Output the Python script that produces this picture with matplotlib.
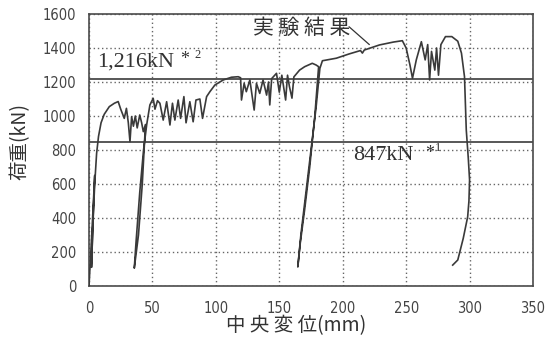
import matplotlib
matplotlib.use("Agg")
import matplotlib.pyplot as plt

# ---- data ----
disp = [0, 2.5, 4.5, 3.2, 2.0, 3.0, 4.5, 6.0, 7.5, 9.5, 12, 16, 20, 23,
        25, 27.8, 29.5, 31, 32.3, 33.6, 35, 36.5, 38, 40, 41.5, 42.8, 44.5,
        42, 39, 35.7, 37, 40, 43, 45.5,
        48, 50.6, 52, 54, 55.9, 58.5, 61.2, 63.8, 65.8, 67.7, 70.3, 72.2, 74.8,
        76.5, 79.5, 82.1, 84.3, 87.4, 89.5, 92.7, 95.3, 99.2, 105.8, 112.3, 117.6,
        119.5, 120.2, 122.3, 124, 126.8, 130.2, 132, 134.6, 137.2, 140, 141.5,
        142.5, 144, 147.8, 150, 152, 155, 156.5, 158, 160, 161.5, 166, 170, 176,
        179, 181,
        178, 174, 170, 166.5, 164.6, 167, 171, 175, 179, 182, 184,
        195, 205, 214, 215.5, 217, 229, 240, 247, 250, 253, 255, 258, 262,
        265, 267, 268.5, 270, 272.6, 274, 275.5, 277.4, 281, 286, 290.7, 293.6,
        296, 297.4, 299, 300, 299.5, 298.5, 295, 290.7, 286.7]
load = [0, 350, 650, 400, 110, 350, 600, 780, 880, 960, 1010, 1055, 1075, 1085,
        1040, 986, 1045, 960, 849, 996, 940, 1000, 930, 1006, 960, 908, 950,
        600, 300, 105, 250, 550, 800, 950,
        1065, 1104, 1040, 1090, 1075, 976, 1084, 947, 1075, 976, 1094, 986, 1114,
        960, 1084, 966, 1094, 1100, 986, 1114, 1143, 1182, 1212, 1228, 1231,
        1225, 1094, 1192, 1143, 1212, 1035, 1192, 1133, 1212, 1123, 1200,
        1065, 1220, 1251, 1140, 1240, 1094, 1240, 1173, 1105, 1230, 1270, 1290, 1310,
        1300, 1290,
        1000, 700, 450, 250, 112, 300, 550, 800, 1050, 1280, 1325,
        1340, 1365, 1385, 1370, 1388, 1418, 1435, 1443, 1400, 1300, 1222, 1330, 1437,
        1330, 1420, 1212, 1380, 1270, 1400, 1240, 1420, 1467, 1467, 1440, 1370,
        1231, 918, 750, 624, 500, 407, 280, 153, 123]

ref_lines = [1216, 847]
ref_labels = ["1,216kN", "847kN"]
ref_marks = ["2", "1"]
xticks = [0, 50, 100, 150, 200, 250, 300, 350]
yticks = [0, 200, 400, 600, 800, 1000, 1200, 1400, 1600]

cjk = ["Noto Sans CJK JP", "DejaVu Sans"]
ink = "#333333"

fig = plt.figure(figsize=(5.51, 3.44), dpi=100)
ax = fig.add_axes([89/551, 58/344, 444/551, 272/344])

ax.plot(disp, load, color="#3a3a3a", lw=1.2, zorder=3)
for v in ref_lines:
    ax.axhline(v, color="#4a4a4a", lw=1.3, zorder=2)

ax.set_xlim(0, 350)
ax.set_ylim(0, 1600)
ax.set_xticks(xticks)
ax.set_yticks(yticks)
ax.grid(True, linestyle=(0, (1, 2)), color="#666666", lw=1.0)
ax.tick_params(length=0, colors="#444444")
ax.tick_params(axis="y", pad=9)
ax.tick_params(axis="x", pad=11)
for lab in ax.get_xticklabels() + ax.get_yticklabels():
    lab.set_fontfamily("DejaVu Sans")
    lab.set_fontstretch("condensed")
    lab.set_fontsize(10.5)
for s in ax.spines.values():
    s.set_color("#4a4a4a")
    s.set_linewidth(1.2)

ax.set_xlabel("中 央 変 位(mm)", family=cjk, fontsize=14, color=ink, va="center")
ax.xaxis.set_label_coords(0.466, -0.147)
ax.set_ylabel("荷重(kN)", family=cjk, fontsize=14, color=ink, va="center")
ax.yaxis.set_label_coords(-0.155, 0.53)

# annotations
ax.text(6, 1318, ref_labels[0], family="Liberation Serif", fontsize=16,
        color=ink, va="center", ha="left")
ax.text(72, 1330, "*", family="Liberation Serif", fontsize=13, color=ink,
        va="center", ha="left")
ax.text(83, 1360, ref_marks[0], family="Liberation Serif", fontsize=9, color=ink,
        va="center", ha="left")
ax.text(208, 770, ref_labels[1], family="Liberation Serif", fontsize=16,
        color=ink, va="center", ha="left")
ax.text(265, 782, "*", family="Liberation Serif", fontsize=13, color=ink,
        va="center", ha="left")
ax.text(273, 812, ref_marks[1], family="Liberation Serif", fontsize=9, color=ink,
        va="center", ha="left")

ax.text(129, 1518, "実 験 結 果", family=cjk, fontsize=15, color=ink,
        va="center", ha="left")
ax.annotate("", xy=(221, 1420), xytext=(205, 1525),
            arrowprops=dict(arrowstyle="-", color=ink, lw=0.9,
                            shrinkA=0, shrinkB=0))

fig.savefig("out.png", dpi=100)
